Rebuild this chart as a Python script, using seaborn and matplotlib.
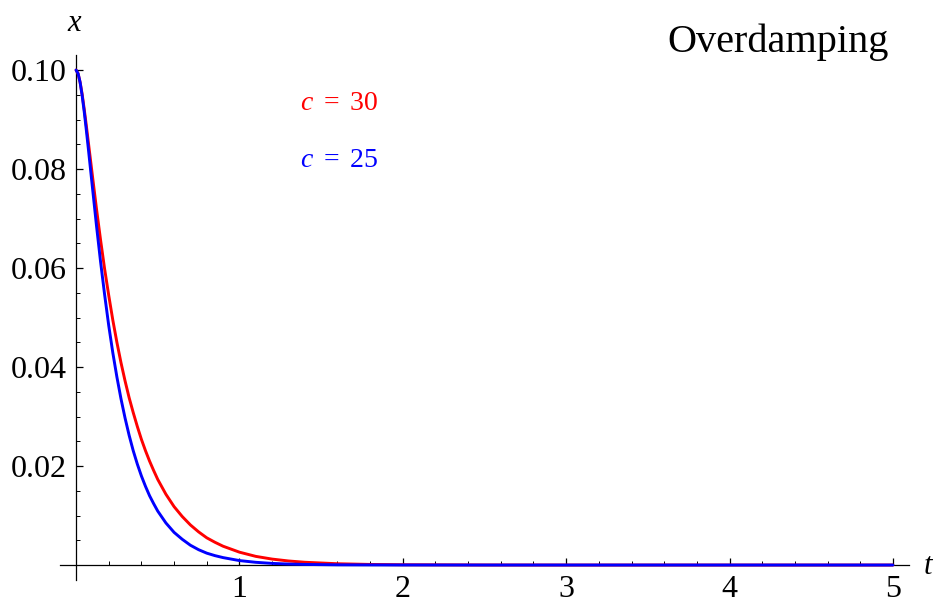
import matplotlib
matplotlib.use("Agg")
import matplotlib.pyplot as plt
import matplotlib.ticker as mticker
import pandas as pd
import seaborn as sns

# values
t_vals = [0, 0.0125, 0.025, 0.0375, 0.05, 0.0625, 0.075, 0.0875, 0.1, 0.125,
          0.15, 0.175, 0.2, 0.225, 0.25, 0.275, 0.3, 0.325, 0.35, 0.375, 0.4,
          0.425, 0.45, 0.475, 0.5, 0.55, 0.6, 0.65, 0.7, 0.75, 0.8, 0.85,
          0.9, 1.0, 1.1, 1.2, 1.3, 1.4, 1.6, 1.8, 2.0, 2.5, 3.0, 4.0, 5.0]
x_c30 = [0.1, 0.0993, 0.0975, 0.0951, 0.0921, 0.0889, 0.0855, 0.0821, 0.0787,
         0.0720, 0.0657, 0.0598, 0.0545, 0.0495, 0.0450, 0.0409, 0.0372,
         0.0338, 0.0308, 0.0280, 0.0254, 0.0231, 0.0210, 0.0191, 0.0173,
         0.0143, 0.0118, 0.0098, 0.0081, 0.0067, 0.0055, 0.0046, 0.0038,
         0.0026, 0.00175, 0.0012, 0.00082, 0.00056, 0.00026, 0.00012,
         0.00006, 0.00001, 0, 0, 0]
x_c25 = [0.1, 0.0993, 0.0975, 0.0948, 0.0916, 0.0880, 0.0842, 0.0803, 0.0764,
         0.0686, 0.0613, 0.0546, 0.0484, 0.0429, 0.0380, 0.0336, 0.0297,
         0.0262, 0.0231, 0.0204, 0.0180, 0.0159, 0.0140, 0.0124, 0.0109,
         0.0085, 0.0066, 0.0052, 0.0040, 0.0031, 0.0024, 0.0019, 0.0015,
         0.0009, 0.00055, 0.00033, 0.0002, 0.00012, 0.00004, 0.00002,
         0.00001, 0, 0, 0, 0]

x_ticks = [1, 2, 3, 4, 5]
x_tick_labels = ["1", "2", "3", "4", "5"]
y_ticks = [0.02, 0.04, 0.06, 0.08, 0.10]
y_tick_labels = ["0.02", "0.04", "0.06", "0.08", "0.10"]

series_names = ["c = 30", "c = 25"]
series_colors = ["#ff0000", "#0000ff"]

sns.set_theme(style="white")
plt.rcParams["font.family"] = ["Liberation Serif", "DejaVu Serif"]
plt.rcParams["text.color"] = "black"
plt.rcParams["mathtext.fontset"] = "custom"
plt.rcParams["mathtext.rm"] = "Liberation Serif"
plt.rcParams["mathtext.it"] = "Liberation Serif:italic"

df = pd.concat([
    pd.DataFrame({"t": t_vals, "x": x_c30, "c": series_names[0]}),
    pd.DataFrame({"t": t_vals, "x": x_c25, "c": series_names[1]}),
])

fig = plt.figure(figsize=(9.38, 6.03), dpi=100)
ax = fig.add_axes([0.064, 0.0381, 0.905, 0.8706])

for name, color in zip(series_names, series_colors):
    sns.lineplot(data=df[df["c"] == name], x="t", y="x", color=color,
                 linewidth=2.1, sort=False, estimator=None, ax=ax, zorder=3)

ax.set_xlim(-0.098, 5.098)
ax.set_ylim(-0.00303, 0.10303)
ax.set_xlabel("")
ax.set_ylabel("")

for side in ["top", "right"]:
    ax.spines[side].set_visible(False)
for side in ["left", "bottom"]:
    ax.spines[side].set_position(("data", 0))
    ax.spines[side].set_color("black")
    ax.spines[side].set_linewidth(0.9)

ax.xaxis.set_major_locator(mticker.FixedLocator(x_ticks))
ax.set_xticklabels(x_tick_labels)
ax.xaxis.set_minor_locator(mticker.MultipleLocator(0.2))
ax.yaxis.set_major_locator(mticker.FixedLocator(y_ticks))
ax.set_yticklabels(y_tick_labels)
ax.yaxis.set_minor_locator(mticker.MultipleLocator(0.005))

ax.tick_params(axis="both", which="major", direction="in", length=5, width=0.9,
               color="black", labelsize=23, labelcolor="black")
ax.tick_params(axis="both", which="minor", direction="in", length=3, width=0.7,
               color="black")
ax.tick_params(axis="x", which="major", pad=7, bottom=True)
ax.tick_params(axis="x", which="minor", bottom=True)
ax.tick_params(axis="y", which="major", pad=7, left=True)
ax.tick_params(axis="y", which="minor", left=True)

ax.text(-0.012, 0.1095, "x", fontsize=22, style="italic", ha="center", va="center")
ax.text(5.19, -0.0002, "t", fontsize=22, style="italic", ha="left", va="center")
ax.text(4.30, 0.1057, "Overdamping", fontsize=29, ha="center", va="center")
ax.text(1.37, 0.0933, r"$c\ =\ 30$", fontsize=20, color=series_colors[0],
        ha="left", va="center")
ax.text(1.37, 0.0818, r"$c\ =\ 25$", fontsize=20, color=series_colors[1],
        ha="left", va="center")

fig.savefig("out.png", dpi=100)
